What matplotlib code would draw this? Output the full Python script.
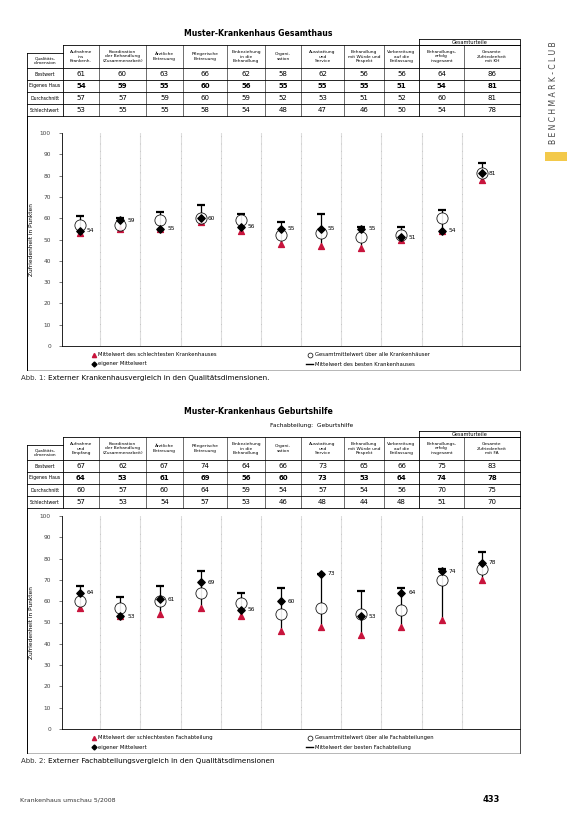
import numpy as np
import matplotlib
matplotlib.use('agg')
import matplotlib.pyplot as plt

plt.rcParams['font.family'] = ['DejaVu Sans']

# --- data -------------------------------------------------------------
kategorien_1 = ["Aufnahme\nins\nKrankenh.", "Koordination\nder Behandlung\n(Zusammenarbeit)",
                "Ärztliche\nBetreuung", "Pflegerische\nBetreuung", "Einbeziehung\nin die\nBehandlung",
                "Organi-\nsation", "Ausstattung\nund\nService", "Behandlung\nmit Würde und\nRespekt",
                "Vorbereitung\nauf die\nEntlassung", "Behandlungs-\nerfolg\ninsgesamt",
                "Gesamte\nZufriedenheit\nmit KH"]
kategorien_2 = ["Aufnahme\nund\nEmpfang", "Koordination\nder Behandlung\n(Zusammenarbeit)",
                "Ärztliche\nBetreuung", "Pflegerische\nBetreuung", "Einbeziehung\nin die\nBehandlung",
                "Organi-\nsation", "Ausstattung\nund\nService", "Behandlung\nmit Würde und\nRespekt",
                "Vorbereitung\nauf die\nEntlassung", "Behandlungs-\nerfolg\ninsgesamt",
                "Gesamte\nZufriedenheit\nmit FA"]
zeilen = ["Bestwert", "Eigenes Haus", "Durchschnitt", "Schlechtwert"]

best_1 = [61, 60, 63, 66, 62, 58, 62, 56, 56, 64, 86]
eigen_1 = [54, 59, 55, 60, 56, 55, 55, 55, 51, 54, 81]
mittel_1 = [57, 57, 59, 60, 59, 52, 53, 51, 52, 60, 81]
schlecht_1 = [53, 55, 55, 58, 54, 48, 47, 46, 50, 54, 78]

best_2 = [67, 62, 67, 74, 64, 66, 73, 65, 66, 75, 83]
eigen_2 = [64, 53, 61, 69, 56, 60, 73, 53, 64, 74, 78]
mittel_2 = [60, 57, 60, 64, 59, 54, 57, 54, 56, 70, 75]
schlecht_2 = [57, 53, 54, 57, 53, 46, 48, 44, 48, 51, 70]

RED = '#c8143c'
W, H = 571, 814

fig = plt.figure(figsize=(W / 100, H / 100), dpi=100)
page = fig.add_axes([0, 0, 1, 1])
page.set_xlim(0, W)
page.set_ylim(H, 0)
page.axis('off')

cols = [27, 63, 99, 146, 183, 227, 265, 301, 344, 384, 419, 464, 520]


def panel(top, titel, kats, best, eigen, mittel, schlecht, leg, caption, sub=None, gap=17):
    # title
    page.text(258, top, titel, ha='center', va='center', fontsize=5.6, fontweight='bold')
    if sub:
        page.text(312, top + 13, sub, ha='center', va='center', fontsize=4.2)
    gtop = top + 6 if not sub else top + 19
    htop = gtop + 6
    # group header "Gesamturteile"
    page.plot([cols[10], cols[12], cols[12], cols[10], cols[10]],
              [gtop, gtop, htop, htop, gtop], color='k', lw=0.6)
    page.text((cols[10] + cols[12]) / 2, (gtop + htop) / 2, "Gesamturteile",
              ha='center', va='center', fontsize=3.6)
    rows_y = [htop + 23 + 12 * k for k in range(5)]
    # table grid
    page.plot([cols[1], cols[12]], [htop, htop], color='k', lw=0.6)
    for y in rows_y:
        page.plot([cols[0], cols[12]], [y, y], color='k', lw=0.6)
    page.plot([cols[0], cols[1]], [htop + 8, htop + 8], color='k', lw=0.6)
    for i, x in enumerate(cols):
        y0 = htop + 8 if i == 0 else htop
        page.plot([x, x], [y0, rows_y[-1]], color='k', lw=0.6 if i in (0, 1, 10, 12) else 0.4)
    page.text((cols[0] + cols[1]) / 2, (htop + 8 + rows_y[0]) / 2, "Qualitäts-\ndimension",
              ha='center', va='center', fontsize=3.2, linespacing=1.0)
    for j, k in enumerate(kats):
        page.text((cols[j + 1] + cols[j + 2]) / 2, (htop + rows_y[0]) / 2, k,
                  ha='center', va='center', fontsize=3.2, linespacing=1.05)
    for r, (name, vals) in enumerate(zip(zeilen, [best, eigen, mittel, schlecht])):
        yc = (rows_y[r] + rows_y[r + 1]) / 2
        page.text((cols[0] + cols[1]) / 2, yc, name, ha='center', va='center', fontsize=3.3)
        for j, v in enumerate(vals):
            page.text((cols[j + 1] + cols[j + 2]) / 2, yc, str(v), ha='center', va='center',
                      fontsize=5, fontweight='bold' if r == 1 else 'normal')

    # plot
    ptop = rows_y[-1] + gap
    pbot = ptop + 213
    ax = fig.add_axes([62 / W, 1 - pbot / H, (520 - 62) / W, (pbot - ptop) / H])
    ax.patch.set_alpha(0)
    x = np.arange(len(kats))
    ax.set_xlim(-0.45, 10.95)
    ax.set_ylim(0, 100)
    ax.set_yticks(np.arange(0, 101, 10))
    ax.tick_params(axis='y', labelsize=4.2, length=2, width=0.5, pad=6, colors='#444444')
    ax.set_xticks([])
    for s in ['top', 'right']:
        ax.spines[s].set_visible(False)
    ax.spines['left'].set_linewidth(0.6)
    ax.spines['bottom'].set_linewidth(0.6)
    ax.set_ylabel("Zufriedenheit in Punkten", fontsize=4.2, labelpad=4)
    for g in x[:-1] + 0.5:
        ax.axvline(g, color='#dddddd', lw=0.8, zorder=0)
        ax.axvline(g, color='#999999', lw=0.4, ls=(0, (1, 12)), zorder=0)
    ax.vlines(x, schlecht, best, color='k', lw=0.9, zorder=2)
    ax.scatter(x, best, marker='_', s=40, color='k', linewidths=1.6, zorder=3)
    ax.scatter(x, schlecht, marker='^', s=18, color=RED, zorder=3)
    ax.scatter(x, mittel, marker='o', s=65, facecolors='white', edgecolors='k',
               linewidths=0.6, zorder=4, alpha=0.9)
    ax.scatter(x, eigen, marker='D', s=14, color='k', zorder=5)
    for xi, v in zip(x, eigen):
        ax.text(xi + 0.17, v, str(v), fontsize=4.2, va='center', ha='left', zorder=6)

    # legend
    ly = pbot + 9
    page.plot(94, ly, marker='^', ms=3, color=RED)
    page.text(98, ly, leg[0], fontsize=3.8, va='center')
    page.plot(94, ly + 9, marker='D', ms=2.5, color='k')
    page.text(98, ly + 9, "eigener Mittelwert", fontsize=3.8, va='center')
    page.plot(310, ly, marker='o', ms=3.5, mfc='white', mec='k', mew=0.5)
    page.text(315, ly, leg[1], fontsize=3.8, va='center')
    page.plot([306, 313], [ly + 9, ly + 9], color='k', lw=1)
    page.text(315, ly + 9, leg[2], fontsize=3.8, va='center')

    # frame
    fb = ly + 15
    page.plot([cols[0], cols[0]], [rows_y[-1], fb], color='k', lw=0.7)
    page.plot([cols[0], cols[12]], [fb, fb], color='k', lw=0.4, alpha=0.5)
    page.plot([cols[12], cols[12]], [rows_y[-1], fb], color='k', lw=0.5)
    page.text(cols[0] - 6, fb + 8, caption[0], fontsize=5, va='center', color='#333333')
    page.text(cols[0] + 21, fb + 8, caption[1], fontsize=5.2, va='center')


panel(33, "Muster-Krankenhaus Gesamthaus", kategorien_1, best_1, eigen_1, mittel_1, schlecht_1,
      ["Mittelwert des schlechtesten Krankenhauses", "Gesamtmittelwert über alle Krankenhäuser",
       "Mittelwert des besten Krankenhauses"],
      ["Abb. 1:", "Externer Krankenhausvergleich in den Qualitätsdimensionen."])

panel(412, "Muster-Krankenhaus Geburtshilfe", kategorien_2, best_2, eigen_2, mittel_2, schlecht_2,
      ["Mittelwert der schlechtesten Fachabteilung", "Gesamtmittelwert über alle Fachabteilungen",
       "Mittelwert der besten Fachabteilung"],
      ["Abb. 2:", "Externer Fachabteilungsvergleich in den Qualitätsdimensionen"],
      sub="Fachabteilung:  Geburtshilfe", gap=8)

# page decoration
page.text(20, 800, "Krankenhaus umschau 5/2008", fontsize=4.5, va='center', color='#333333')
page.text(500, 800, "433", fontsize=6, va='center', ha='right', fontweight='bold')
page.text(553, 93, "B E N C H M A R K - C L U B", rotation=90, fontsize=5.5, va='center',
          ha='center', color='#444444')
page.add_patch(plt.Rectangle((545, 152), 22, 9, color='#f3c94a', lw=0))

fig.savefig('out.png', dpi=100)
